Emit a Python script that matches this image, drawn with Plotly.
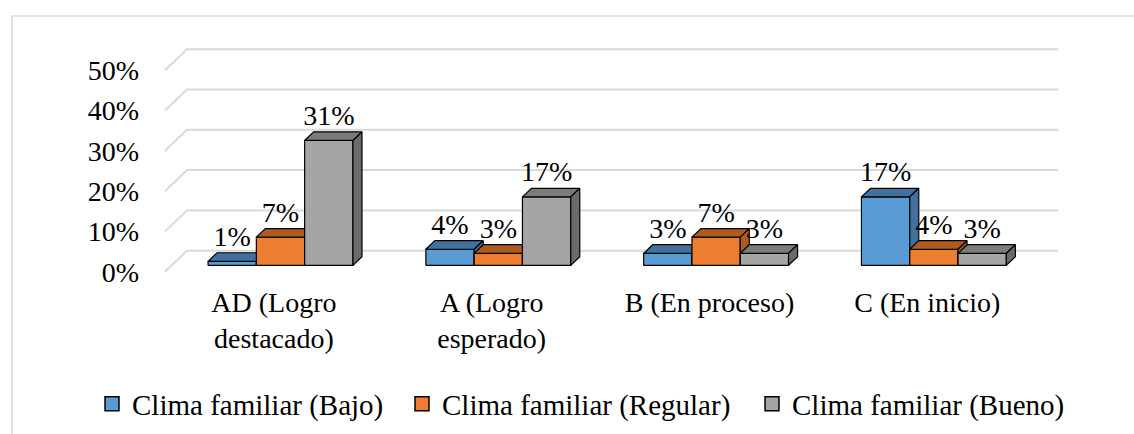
import plotly.graph_objects as go

# ---------------- data ----------------
categories = ["AD (Logro<br>destacado)", "A (Logro<br>esperado)", "B (En proceso)", "C (En inicio)"]
series_names = ["Clima familiar (Bajo)", "Clima familiar (Regular)", "Clima familiar (Bueno)"]
bajo = [1, 4, 3, 17]
regular = [7, 3, 7, 4]
bueno = [31, 17, 3, 3]
y_ticks = [0, 10, 20, 30, 40, 50]

series_values = [bajo, regular, bueno]

# ---------------- style ----------------
FONT = "Liberation Serif, Times New Roman, serif"
FS = 28
LEG_FS = 29
front_colors = ["#5B9BD5", "#ED7D31", "#A5A5A5"]
top_colors = ["#41719C", "#AE5A21", "#7B7B7B"]
side_colors = ["#41719C", "#AE5A21", "#6B6B6B"]
grid_color = "#D9D9D9"

W, H = 1134, 434
px_per_cat = 217.8
px_per_pct = 4.03
x_front_left_px = 165.0
y_front_zero_px = 271.7
plot_l, plot_r, plot_t, plot_b = 150, 1070, 30, 280

x_range = [(plot_l - x_front_left_px) / px_per_cat - 0.5,
           (plot_r - x_front_left_px) / px_per_cat - 0.5]
y_range = [(y_front_zero_px - plot_b) / px_per_pct,
           (y_front_zero_px - plot_t) / px_per_pct]

# wall depth vector (data units)
wdx = 22 / px_per_cat
wdy = 21 / px_per_pct
bar_front = 0.3
bar_depth = 0.41
bw = 48.3 / px_per_cat

fig = go.Figure()

# walls gridlines
gx, gy = [], []
for t in y_ticks:
    gx += [-0.5, -0.5 + wdx, len(categories) - 0.5 + wdx, None]
    gy += [t, t + wdy, t + wdy, None]
fig.add_trace(go.Scatter(x=gx, y=gy, mode="lines", line=dict(color=grid_color, width=2),
                         hoverinfo="skip", showlegend=False))

fdx, fdy = bar_front * wdx, bar_front * wdy
bdx, bdy = bar_depth * wdx, bar_depth * wdy


def poly(xs, ys, color):
    fig.add_trace(go.Scatter(x=xs + [xs[0]], y=ys + [ys[0]], mode="lines", fill="toself",
                             fillcolor=color, line=dict(color="#000000", width=1.2),
                             hoverinfo="skip", showlegend=False))


lx, ly, lt = [], [], []
for i in range(len(categories)):
    for j, vals in enumerate(series_values):
        v = vals[i]
        xc = i + (j - 1) * bw + fdx
        x0, x1 = xc - bw / 2, xc + bw / 2
        yb, yt = fdy, v + fdy
        poly([x0, x1, x1, x0], [yb, yb, yt, yt], front_colors[j])                         # front
        poly([x0, x1, x1 + bdx, x0 + bdx], [yt, yt, yt + bdy, yt + bdy], top_colors[j])   # top
        poly([x1, x1 + bdx, x1 + bdx, x1], [yb, yb + bdy, yt + bdy, yt], side_colors[j])  # side
        lx.append(xc)
        ly.append(yt + bdy)
        lt.append(f"{v}%")

fig.add_trace(go.Scatter(x=lx, y=ly, mode="text", text=lt, textposition="top center",
                         textfont=dict(family=FONT, size=FS, color="#000000"),
                         hoverinfo="skip", showlegend=False, cliponaxis=False))

# legend entries (one legend per entry to control spacing)
legend_names = ["legend", "legend2", "legend3"]
legend_left_px = [92, 402, 752]
for j, name in enumerate(series_names):
    fig.add_trace(go.Scatter(x=[None], y=[None], mode="markers", name=name,
                             legend=legend_names[j],
                             marker=dict(symbol="square", size=14, color=front_colors[j],
                                         line=dict(color="#000000", width=1.5))))

legend_common = dict(orientation="h", xref="container", yref="container",
                     xanchor="left", y=(H - 404) / H, yanchor="middle",
                     font=dict(family=FONT, size=LEG_FS, color="#000000"),
                     bgcolor="rgba(0,0,0,0)", borderwidth=0)

# chart border
fig.add_shape(type="rect", xref="paper", yref="paper",
              x0=(12 - plot_l) / (plot_r - plot_l), x1=(1145 - plot_l) / (plot_r - plot_l),
              y0=(plot_b - 445) / (plot_b - plot_t), y1=(plot_b - 16) / (plot_b - plot_t),
              line=dict(color=grid_color, width=1.5), layer="below")

fig.update_layout(
    width=W, height=H,
    margin=dict(l=plot_l, r=W - plot_r, t=plot_t, b=H - plot_b),
    paper_bgcolor="white", plot_bgcolor="white",
    font=dict(family=FONT, size=FS, color="#000000"),
    showlegend=True,
    legend=dict(x=legend_left_px[0] / W, **legend_common),
    legend2=dict(x=legend_left_px[1] / W, **legend_common),
    legend3=dict(x=legend_left_px[2] / W, **legend_common),
    xaxis=dict(range=x_range, showgrid=False, zeroline=False, showline=False,
               tickvals=list(range(len(categories))), ticktext=categories,
               ticks="", tickfont=dict(family=FONT, size=FS), ticklabelstandoff=3),
    yaxis=dict(range=y_range, showgrid=False, zeroline=False, showline=False,
               tickvals=y_ticks, ticktext=[f"{t}%" for t in y_ticks],
               ticks="", tickfont=dict(family=FONT, size=FS), ticklabelstandoff=10),
)

fig.write_html("out.html", config={"displayModeBar": False},
               post_script="document.body.style.margin='0';")
